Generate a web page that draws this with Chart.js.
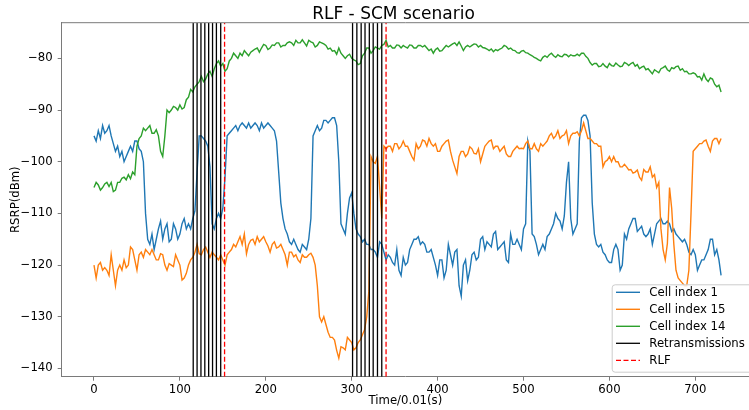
<!DOCTYPE html>
<html><head><meta charset="utf-8">
<script src="https://cdn.jsdelivr.net/npm/chart.js@4"></script>
<style>html,body{margin:0;padding:0;background:#fff;overflow:hidden}#wrap{width:749px;height:410px;position:relative}</style>
</head><body><div id="wrap"><canvas id="c" width="749" height="410"></canvas></div>
<script>
const time = [
0,2.5,5,7.5,10,12.5,15,17.5,20,22.5,
25,27.5,30,32.5,35,37.5,40,42.5,45,47.5,
50,52.5,55,57.5,60,62.5,65,67.5,70,72.5,
75,77.5,80,82.5,85,87.5,90,92.5,95,97.5,
100,102.5,105,107.5,110,112.5,115,117.5,120,122.5,
125,127.5,130,132.5,135,137.5,140,142.5,145,147.5,
150,152.5,155,157.5,160,162.5,165,167.5,170,172.5,
175,177.5,180,182.5,185,187.5,190,192.5,195,197.5,
200,202.5,205,207.5,210,212.5,215,217.5,220,222.5,
225,227.5,230,232.5,235,237.5,240,242.5,245,247.5,
250,252.5,255,257.5,260,262.5,265,267.5,270,272.5,
275,277.5,280,282.5,285,287.5,290,292.5,295,297.5,
300,302.5,305,307.5,310,312.5,315,317.5,320,322.5,
325,327.5,330,332.5,335,337.5,340,342.5,345,347.5,
350,352.5,355,357.5,360,362.5,365,367.5,370,372.5,
375,377.5,380,382.5,385,387.5,390,392.5,395,397.5,
400,402.5,405,407.5,410,412.5,415,417.5,420,422.5,
425,427.5,430,432.5,435,437.5,440,442.5,445,447.5,
450,452.5,455,457.5,460,462.5,465,467.5,470,472.5,
475,477.5,480,482.5,485,487.5,490,492.5,495,497.5,
500,502.5,505,507.5,510,512.5,515,517.5,520,522.5,
525,527.5,530,532.5,535,537.5,540,542.5,545,547.5,
550,552.5,555,557.5,560,562.5,565,567.5,570,572.5,
575,577.5,580,582.5,585,587.5,590,592.5,595,597.5,
600,602.5,605,607.5,610,612.5,615,617.5,620,622.5,
625,627.5,630,632.5,635,637.5,640,642.5,645,647.5,
650,652.5,655,657.5,660,662.5,665,667.5,670,672.5,
675,677.5,680,682.5,685,687.5,690,692.5,695,697.5,
700,702.5,705,707.5,710,712.5,715,717.5,720,722.5,
725,727.5,730];
const cell1 = [
-95,-96,-94,-95.5,-93,-94.5,-94,-93,-95,-96.5,
-98,-97,-99,-98,-100,-99,-98,-97,-98,-96,
-96,-97.5,-98,-100,-110,-115,-116,-114,-117,-115,
-113,-111.5,-115,-113,-112,-115.5,-115,-112,-113,-115,
-114,-112,-111,-113,-112,-113,-111,-109.5,-102,-95,
-95,-95.5,-96,-97,-101,-112,-113,-111,-110,-111,
-109,-103,-95,-94.5,-94,-93.5,-93,-94,-93,-92.5,
-93,-93.5,-92.5,-93.5,-93,-92.5,-93,-94,-92.5,-93.5,
-93,-92.5,-93,-93.5,-94,-96,-102,-108,-111,-113,
-114,-115.5,-116,-115,-116,-117,-117.5,-116,-116.5,-117,
-115,-111,-95,-94,-93,-94,-93.5,-92,-92,-92.5,
-92,-91.5,-91.5,-93,-100,-112,-113,-114,-110,-107,
-106,-110,-113,-114,-114.5,-115.5,-115,-116,-116,-117,
-117,-117.5,-118.5,-115.5,-116,-117.5,-119,-118,-118.5,-119.5,
-120,-117,-121,-122,-118.5,-120,-119.5,-117,-116,-115,
-115,-114.5,-116,-115.5,-116,-117.5,-117.5,-117,-118.5,-120,
-122,-119,-119,-122.5,-121,-116,-118,-120,-117.5,-117,
-124,-126,-120,-119,-123,-121,-118,-117.5,-119,-118.5,
-115,-114.5,-117,-115.5,-116,-116.5,-114,-113.5,-117,-116.5,
-116,-115.5,-119,-119.5,-114,-116,-116,-115,-116,-117,
-113,-112,-96,-98,-114,-114.5,-116,-118,-117,-116,
-117,-114.5,-114,-113,-112,-110,-111,-111.5,-113,-110.5,
-104,-100,-111,-114,-113,-112,-96,-91.5,-91,-91,
-92,-95,-108,-114,-116,-116.5,-116,-117.5,-118,-119,
-119.5,-119.5,-117,-116,-117,-121,-120,-114,-115,-113,
-112,-111,-111,-113.5,-113,-112.5,-114,-114.5,-114,-113,
-116,-114,-112,-111.5,-111,-112,-112,-111.5,-112,-113.5,
-113,-114,-114.5,-115,-115.5,-115,-116,-117.5,-118,-117,
-118,-121,-120,-119,-119,-118,-117,-115,-115,-118,
-117,-119,-122];
const cell15 = [
-120,-122.5,-120,-119.5,-121,-120.5,-121,-122,-118,-121,
-124,-121,-120,-121,-119,-120.5,-120,-116.5,-117,-119,
-121,-118,-117.5,-118.5,-117,-117.5,-118,-117,-118,-119,
-119,-117.8,-118,-120,-121,-119.7,-120,-120.3,-118,-119,
-120,-122.9,-122.5,-121.6,-120,-119,-118.5,-117.5,-116,-117.8,
-118,-117,-116.5,-117.5,-118.5,-117.5,-118,-118.5,-119,-118,
-119,-120,-118,-117.5,-117,-116,-116.5,-115.5,-114.5,-116,
-114,-117.8,-116,-115.2,-115,-116,-114.5,-115.5,-115,-114.5,
-115.5,-116.3,-117.5,-116,-115.5,-116.7,-116.5,-116,-117,-118,
-120,-117.5,-117.5,-118.4,-118,-119,-119.5,-118,-118.5,-118.5,
-118,-117.7,-118.5,-120,-124,-130,-131,-130,-131.5,-133,
-134,-134,-134.5,-136.5,-138,-135.8,-136,-136.4,-134,-134.5,
-135,-136.4,-136,-135,-134.5,-133.5,-132.5,-130,-125,-99,
-100,-100.3,-99,-104.9,-111,-97,-97.5,-97,-97,-98,
-96.5,-96.5,-97.5,-97,-96,-97,-97,-98,-99,-99.7,
-96.5,-97.5,-97,-95.8,-96,-97,-95.5,-96.5,-97,-96.5,
-98,-98,-97,-96.5,-96,-95.8,-98,-99.7,-101,-102.3,
-99,-98,-98,-99,-98.5,-97.1,-97.5,-98.4,-98.5,-97.5,
-100,-98.5,-97,-96.5,-96,-95.8,-97.5,-97,-97,-98,
-97.5,-97,-98.5,-99,-99,-98,-97.5,-97,-97.5,-97.4,
-97.5,-96.5,-96,-97.5,-97.5,-96.5,-97.5,-98,-96.5,-97,
-96.5,-96,-95,-94.5,-95.5,-95,-94,-95.5,-95,-94.8,
-94,-96.5,-95,-94.5,-94.5,-94.2,-95,-94,-92.5,-94,
-95.5,-95.5,-96,-96.5,-96.5,-97,-97,-101,-100,-99.7,
-99,-100,-99,-100,-100,-101,-101,-100.5,-101,-101.6,
-101.5,-102.2,-102,-101.6,-103,-103.6,-101.5,-102,-102,-101,
-103,-102.5,-105,-104,-113,-117,-119,-115.8,-105,-109,
-116,-121,-122.5,-123,-123.5,-124,-124,-121,-110,-98,
-97.5,-97,-96.5,-96.5,-96,-95.8,-97,-98,-96,-95.5,
-95.5,-96.5,-95.5];
const cell14 = [
-105,-104,-104.5,-105.5,-105,-104.3,-104,-104.8,-104,-105.8,
-105.5,-104,-104,-103.2,-103,-103.5,-102.5,-103.3,-102,-102.5,
-97,-95.5,-95,-93.5,-94,-93.5,-93,-94.5,-94.5,-93.8,
-95,-98,-99,-95,-90,-90.5,-90,-89.3,-89.5,-90,
-89,-89.8,-89.5,-88,-87.5,-86,-86.5,-85.5,-85,-84.5,
-83.5,-84.5,-84,-83,-82.5,-83.5,-82,-81,-80.5,-81.5,
-81,-82.5,-82,-80.5,-80,-79,-79.5,-80,-79,-79.5,
-78.5,-79,-79.5,-78.8,-78.5,-78.2,-78,-78.8,-78,-77.3,
-77.5,-78.3,-78,-77.4,-77.5,-77,-77,-77.8,-77.5,-77.5,
-77,-76.8,-77,-77.5,-76.5,-77,-77,-76.4,-77,-77.6,
-76.5,-76.8,-77,-77.8,-77.5,-76.8,-77,-77.2,-77.5,-78.2,
-78,-78.6,-78.5,-79.2,-78,-79,-79.5,-80,-79.5,-79.2,
-80,-80.3,-80.5,-81.2,-81,-79.5,-79,-78,-78,-79,
-78.5,-77.8,-78,-78.2,-77.5,-77.3,-76.5,-77.8,-77.5,-78,
-78,-77.4,-77.5,-78,-77.5,-77.8,-78,-77.4,-77.5,-78,
-78,-77.5,-77.5,-77.8,-77.5,-78,-78.5,-78.2,-79,-78.3,
-78,-78.6,-78.5,-78,-77.5,-77.8,-77.5,-77.2,-77,-77.5,
-76.8,-77.6,-78.5,-77.8,-77.5,-77.8,-77.5,-77.2,-77.3,-77.8,
-77.5,-77.9,-78,-78.2,-78.5,-78.2,-78.7,-78.3,-78.5,-78.2,
-78,-77.5,-77.7,-78.2,-78,-78.4,-78.5,-78.9,-79,-78.6,
-78.5,-78.9,-79,-79.3,-79.5,-79.8,-80,-80.3,-80.5,-79.8,
-79.5,-79.8,-79.3,-79,-79.5,-79.8,-79.3,-79.6,-79.7,-79.2,
-79.3,-79.7,-79.3,-79.5,-79.5,-79.2,-79.5,-79,-79,-79.6,
-80,-80.8,-81.3,-81,-81,-81.6,-81.5,-81,-81.5,-81.8,
-81,-81.4,-81.5,-80.9,-81.3,-81.6,-81.5,-80.8,-81,-81.4,
-81,-80.8,-81.5,-81.2,-82,-81.7,-81.5,-82.2,-82,-82.5,
-83,-82.2,-82.5,-82.8,-82,-81.8,-81.5,-82.2,-82.5,-81.8,
-82,-81.6,-81.5,-82.3,-82,-82.6,-82.5,-83,-83,-82.8,
-83,-83.6,-83.5,-84.2,-83,-84,-84.5,-83.8,-84,-85,
-85.5,-85.2,-86.5];
const retransTimes = [115.5,120,124.5,129,133.5,138,142.5,147.5,301,306,311,315.5,320.5,325,330,335];
const rlfTimes = [152,340];
const xTicks = [0,100,200,300,400,500,600,700];
const yTicks = [-140,-130,-120,-110,-100,-90,-80];
const seriesLabels = ['Cell index 1','Cell index 15','Cell index 14','Retransmissions','RLF'];
const chartTitle = 'RLF - SCM scenario';
const X_MIN = -37.6, X_MAX = 762.5, Y_MIN = -141.6, Y_MAX = -73.1;

const FONT = 'DejaVu Sans';
function pts(vals){ return time.map((t,i)=>({x:t,y:vals[i]})); }
function vlines(ts){ const o=[]; ts.forEach(t=>{o.push({x:t,y:Y_MIN},{x:t,y:Y_MAX},{x:t,y:null});}); return o; }
const minus = v => String(v).replace('-', '\u2212');

const legendPlugin = {
  id:'mplLegend',
  afterDraw(chart){
    const ctx = chart.ctx;
    const x0 = 611.7, y0 = 284.3, w = 160, h = 87.4;
    ctx.save();
    ctx.beginPath();
    if (ctx.roundRect) ctx.roundRect(x0+0.5, y0+0.5, w, h, 3); else ctx.rect(x0+0.5,y0+0.5,w,h);
    ctx.fillStyle = 'rgba(255,255,255,0.8)';
    ctx.fill();
    ctx.strokeStyle = '#cccccc'; ctx.lineWidth = 1; ctx.stroke();
    const ds = chart.data.datasets;
    ds.forEach((d,i)=>{
      const y = 292.3 + i*17;
      ctx.beginPath();
      ctx.setLineDash(d.borderDash || []);
      ctx.strokeStyle = d.borderColor; ctx.lineWidth = d.borderWidth;
      ctx.moveTo(616, y); ctx.lineTo(640, y); ctx.stroke();
      ctx.setLineDash([]);
      ctx.fillStyle = '#000'; ctx.font = '11.7px "' + FONT + '"';
      ctx.textBaseline = 'middle'; ctx.textAlign = 'left';
      ctx.fillText(d.label, 649.3, y + 0.5);
    });
    ctx.restore();
  }
};
const framePlugin = {
  id:'frame',
  afterDatasetsDraw(chart){
    const a = chart.chartArea, ctx = chart.ctx;
    ctx.save(); ctx.strokeStyle = '#7a7a7a'; ctx.lineWidth = 1;
    ctx.beginPath(); ctx.moveTo(a.left, a.top); ctx.lineTo(a.right, a.top); ctx.stroke();
    ctx.fillStyle = '#000'; ctx.font = '17px "' + FONT + '"';
    ctx.textAlign = 'center'; ctx.textBaseline = 'alphabetic';
    ctx.fillText(chartTitle, 393.5, 18.5);
    ctx.restore();
  }
};

new Chart(document.getElementById('c'), {
  type:'line',
  data:{ datasets:[
    {label:seriesLabels[0], data:pts(cell1), borderColor:'#1f77b4', borderWidth:1.4, pointRadius:0, order:5},
    {label:seriesLabels[1], data:pts(cell15), borderColor:'#ff7f0e', borderWidth:1.4, pointRadius:0, order:4},
    {label:seriesLabels[2], data:pts(cell14), borderColor:'#2ca02c', borderWidth:1.4, pointRadius:0, order:3},
    {label:seriesLabels[3], data:vlines(retransTimes), borderColor:'#000000', borderWidth:1.3, pointRadius:0, spanGaps:false, order:2},
    {label:seriesLabels[4], data:vlines(rlfTimes), borderColor:'#ff0000', borderWidth:1.3, borderDash:[5,2.5], pointRadius:0, spanGaps:false, order:1}
  ]},
  options:{
    responsive:false, animation:false, devicePixelRatio:1,
    layout:{padding:{top:22.7,left:0,right:0,bottom:0}},
    plugins:{
      legend:{display:false},
      tooltip:{enabled:false},
      title:{display:false}
    },
    scales:{
      x:{type:'linear', min:X_MIN, max:X_MAX,
        afterFit:s=>{s.height=33.3;},
        afterBuildTicks:s=>{s.ticks=xTicks.map(v=>({value:v}));},
        ticks:{color:'#000', font:{family:FONT,size:11.7}, padding:2, maxRotation:0, autoSkip:false, callback:v=>minus(v)},
        grid:{display:true, drawOnChartArea:false, drawTicks:true, tickLength:4, tickColor:'#7a7a7a'},
        border:{display:true, color:'#7a7a7a', width:1},
        title:{display:true, text:'Time/0.01(s)', color:'#000', font:{family:FONT,size:11.7}, padding:{top:0,bottom:2.5}}
      },
      y:{type:'linear', min:Y_MIN, max:Y_MAX,
        afterFit:s=>{s.width=61.7;},
        afterBuildTicks:s=>{s.ticks=yTicks.map(v=>({value:v}));},
        ticks:{color:'#000', font:{family:FONT,size:11.7}, padding:5, autoSkip:false, callback:v=>minus(v)},
        grid:{display:true, drawOnChartArea:false, drawTicks:true, tickLength:4, tickColor:'#7a7a7a'},
        border:{display:true, color:'#7a7a7a', width:1},
        title:{display:true, text:'RSRP(dBm)', color:'#000', font:{family:FONT,size:11.7}, padding:{top:9,bottom:0}}
      }
    }
  },
  plugins:[framePlugin, legendPlugin]
});
</script></body></html>
